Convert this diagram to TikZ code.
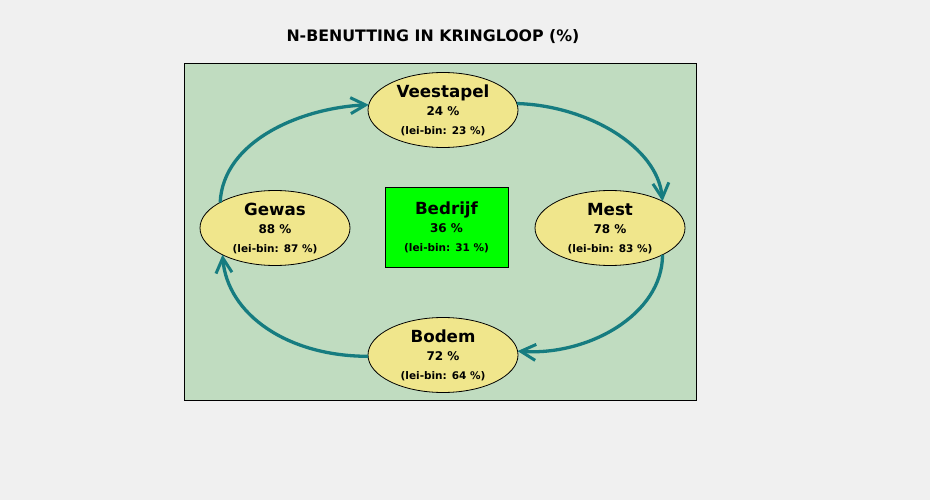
\documentclass[tikz,border=0pt]{standalone}
\usepackage{fontspec}
\setmainfont{DejaVu Sans}
\usetikzlibrary{shapes.geometric,arrows.meta}
\definecolor{bgc}{HTML}{F0F0F0}
\definecolor{panelc}{HTML}{C0DCC0}
\definecolor{khakic}{HTML}{F0E68C}
\definecolor{greenc}{HTML}{00FF00}
\definecolor{tealc}{RGB}{22,124,128}
\newcommand{\cyclabels}[4]{%
  \node[ttl,anchor=base] (#1-t) at ([yshift=12.5pt]#1.center) {#2};
  \node[pct,anchor=base] (#1-p) at ([yshift=-5.5pt]#1.center) {#3};
  \node[lei,anchor=base] (#1-l) at ([yshift=-24.5pt]#1.center) {#4};
}
\begin{document}
\begin{tikzpicture}[x=1pt,y=-1pt,
  cyc/.style={ellipse,draw=black,fill=khakic,line width=0.8pt,minimum width=150pt,minimum height=75pt,inner sep=0pt,outer sep=0pt},
  firm/.style={rectangle,draw=black,fill=greenc,line width=0.8pt,minimum width=123pt,minimum height=80pt,inner sep=0pt,outer sep=0pt},
  ttl/.style={font=\bfseries\fontsize{16.7}{19}\selectfont,inner sep=0pt},
  pct/.style={font=\bfseries\fontsize{12}{14}\selectfont,inner sep=0pt},
  lei/.style={font=\bfseries\fontsize{10.5}{12}\selectfont,inner sep=0pt},
  arr/.style={draw=tealc,line width=3.3pt,-{Straight Barb[length=15pt,width=16pt,line width=3pt]}}]
\useasboundingbox[fill=bgc] (0,0) rectangle (930,500);
\node[font=\bfseries\fontsize{15.8}{18}\selectfont,inner sep=0pt] (title) at (433,37) {N-BENUTTING IN KRINGLOOP (\%)};
\node[rectangle,draw=black,fill=panelc,line width=1pt,minimum width=512pt,minimum height=336pt,inner sep=0pt] (panel) at (440,232) {};
\node[cyc] (veestapel) at (443,110) {};
\node[cyc] (gewas) at (275,228) {};
\node[cyc] (mest) at (610,228) {};
\node[cyc] (bodem) at (443,355) {};
\node[firm] (bedrijf) at (446.5,227) {};
\cyclabels{veestapel}{Veestapel}{24 \%}{(lei-bin: 23 \%)}
\cyclabels{gewas}{Gewas}{88 \%}{(lei-bin: 87 \%)}
\cyclabels{mest}{Mest}{78 \%}{(lei-bin: 83 \%)}
\cyclabels{bodem}{Bodem}{72 \%}{(lei-bin: 64 \%)}
\cyclabels{bedrijf}{Bedrijf}{36 \%}{(lei-bin: 31 \%)}
\draw[arr] (gewas.155) .. controls +(3,-62) and +(-67,3) .. (veestapel.176);
\draw[arr] (veestapel.5) .. controls +(70,2) and +(-5,-55) .. (mest.27);
\draw[arr] (mest.333) .. controls +(0,60) and +(70,5) .. (bodem.3);
\draw[arr] (bodem.181) .. controls +(-80,0) and +(5,60) .. (gewas.207);
\end{tikzpicture}
\end{document}
